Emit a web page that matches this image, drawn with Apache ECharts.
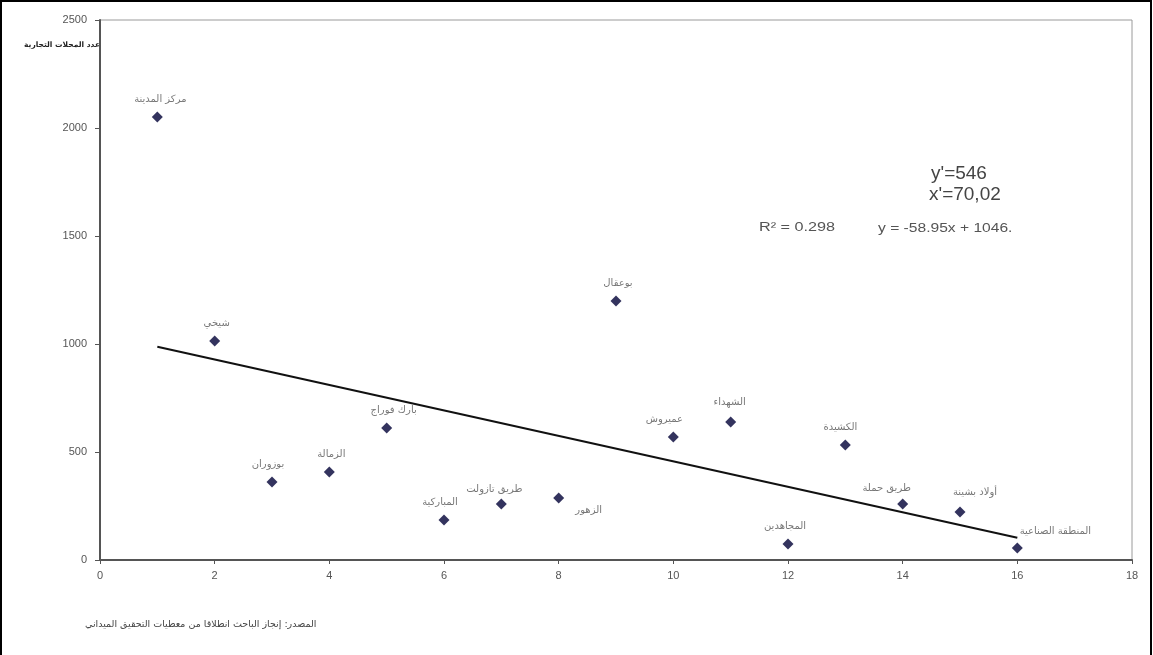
<!DOCTYPE html>
<html>
<head>
<meta charset="utf-8">
<script src="https://cdn.jsdelivr.net/npm/echarts@6/dist/echarts.min.js"></script>
<style>html,body{margin:0;padding:0;background:#fff}#c{width:1153px;height:655px}</style>
</head>
<body>
<div id="c"></div>
<script>
var xValues = [1, 2, 3, 4, 5, 6, 7, 8, 9, 10, 11, 12, 13, 14, 15, 16];
var shopCounts = [2051, 1014, 361, 407, 611, 185, 259, 287, 1199, 569, 639, 74, 532, 259, 222, 56];
var names = ['مركز المدينة', 'شيخي', 'بوزوران', 'الزمالة', 'بارك فوراج', 'المباركية', 'طريق تازولت', 'الزهور', 'بوعقال', 'عميروش', 'الشهداء', 'المجاهدين', 'الكشيدة', 'طريق حملة', 'أولاد بشينة', 'المنطقة الصناعية'];
var trendSlope = -58.95;
var trendIntercept = 1046;
var trendRange = [1, 16];
var xTicks = [0, 2, 4, 6, 8, 10, 12, 14, 16, 18];
var yTicks = [0, 500, 1000, 1500, 2000, 2500];

// label offsets [dx, dy] relative to default 'top' placement
var labelOffsets = [[3,0],[2,0],[-4,0],[2,0],[7,0],[-4,0],[-7,3],[30,30],[2,0],[-9,0],[-1,-2],[-3,0],[-5,0],[-16,2],[15,-2],[38,1]];

var arabicFont = 'DejaVu Sans';
var scatterData = xValues.map(function (x, i) {
  return {
    value: [x, shopCounts[i]],
    name: names[i],
    label: { offset: labelOffsets[i] }
  };
});
var trendData = trendRange.map(function (x) { return [x, trendIntercept + trendSlope * x]; });

var chart = echarts.init(document.getElementById('c'));
chart.setOption({
  backgroundColor: '#fff',
  animation: false,
  grid: { left: 100, right: 21, top: 20, bottom: 95, show: true, borderColor: '#9a9a9a', borderWidth: 1 },
  xAxis: {
    type: 'value', min: xTicks[0], max: xTicks[xTicks.length - 1], interval: 2,
    axisLine: { show: true, onZero: false, lineStyle: { color: '#555', width: 2 } },
    axisTick: { show: true, length: 4, lineStyle: { color: '#555' } },
    axisLabel: { color: '#555', fontSize: 11, margin: 10, fontFamily: 'Liberation Sans' },
    splitLine: { show: false }
  },
  yAxis: {
    type: 'value', min: yTicks[0], max: yTicks[yTicks.length - 1], interval: 500,
    axisLine: { show: true, onZero: false, lineStyle: { color: '#555', width: 2 } },
    axisTick: { show: true, length: 5, lineStyle: { color: '#555' } },
    axisLabel: { color: '#555', fontSize: 11, margin: 13, fontFamily: 'Liberation Sans',
      formatter: function (v) { return String(v); } },
    splitLine: { show: false }
  },
  series: [
    {
      type: 'line', data: trendData, symbol: 'none', silent: true,
      lineStyle: { color: '#111', width: 2 }, z: 2
    },
    {
      type: 'scatter', data: scatterData, symbol: 'diamond', symbolSize: 11,
      itemStyle: { color: '#000036' }, z: 3,
      label: {
        show: true, position: 'top', distance: 7,
        formatter: function (p) { return p.name; },
        color: '#555', fontSize: 10, fontFamily: arabicFont
      }
    }
  ],
  graphic: [
    { type: 'rect', shape: { x: 1, y: 1, width: 1150, height: 660 }, style: { fill: 'none', stroke: '#000', lineWidth: 2 }, silent: true },
    { type: 'text', right: 1053, top: 41, style: { text: 'عدد المحلات التجارية', fill: '#222', fontSize: 7.5, fontWeight: 'bold', fontFamily: arabicFont } },
    { type: 'text', left: 931, top: 164, style: { text: "y'=546", fill: '#444', fontSize: 19, fontFamily: 'Liberation Sans' } },
    { type: 'text', left: 929, top: 185, style: { text: "x'=70,02", fill: '#444', fontSize: 19, fontFamily: 'Liberation Sans' } },
    { type: 'text', x: 759, y: 222, scaleX: 1.35, style: { text: 'R² = 0.298', fill: '#555', fontSize: 12, fontFamily: 'Liberation Sans' } },
    { type: 'text', x: 878, y: 223, scaleX: 1.3, style: { text: 'y = -58.95x + 1046.', fill: '#555', fontSize: 12, fontFamily: 'Liberation Sans' } },
    { type: 'text', left: 85, top: 620, style: { text: 'المصدر: إنجاز الباحث انطلاقا من معطيات التحقيق الميداني', fill: '#444', fontSize: 9.5, fontFamily: arabicFont } }
  ]
});
</script>
</body>
</html>
